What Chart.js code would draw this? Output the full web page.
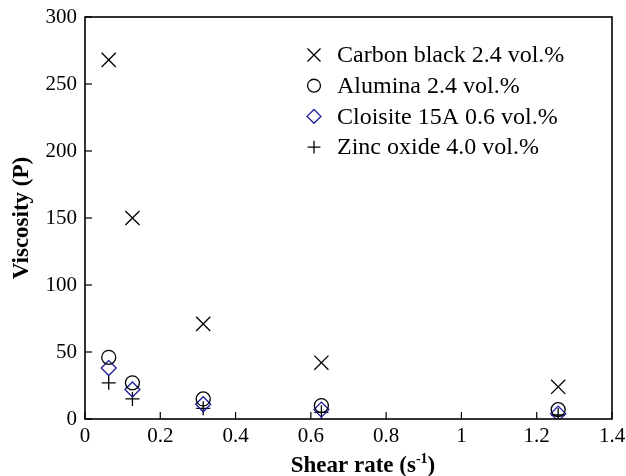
<!DOCTYPE html>
<html lang="en">
<head>
  <meta charset="UTF-8" />
  <title>Viscosity vs shear rate</title>
  <script src="https://cdn.jsdelivr.net/npm/chart.js"></script>
  <style>
    html, body { margin: 0; padding: 0; background: #fff; }
    #wrap { width: 626px; height: 476px; }
  </style>
</head>
<body>
<div id="wrap"><canvas id="viscChart" width="626" height="476"></canvas></div>

<script>
  // values
  const shearRate   = [0.063, 0.126, 0.314, 0.628, 1.257];
  const carbonBlack = [268, 150, 71, 42, 24];
  const alumina     = [46, 27, 15, 10, 7];
  const cloisite    = [38, 22, 11, 7, 4];
  const zincOxide   = [27, 15, 8, 5, 3];

  const seriesNames = ['Carbon black 2.4 vol.%', 'Alumina 2.4 vol.%', 'Cloisite 15A 0.6 vol.%', 'Zinc oxide 4.0 vol.%'];
  const xTickLabels = ['0', '0.2', '0.4', '0.6', '0.8', '1', '1.2', '1.4'];
  const yTickLabels = ['0', '50', '100', '150', '200', '250', '300'];

  const FONT = "'Liberation Serif', 'Times New Roman', serif";

  function pts(ys) {
    return ys.map((y, i) => ({ x: shearRate[i], y: y }));
  }

  const styles = [
    { pointStyle: 'crossRot', radius: 10, color: '#000' },
    { pointStyle: 'circle',   radius: 7,  color: '#000' },
    { pointStyle: 'rectRot',  radius: 7.5, color: '#1c1c9c' },
    { pointStyle: 'cross',    radius: 7,  color: '#000' }
  ];
  const values = [carbonBlack, alumina, cloisite, zincOxide];

  const datasets = values.map((v, i) => ({
    label: seriesNames[i],
    data: pts(v),
    pointStyle: styles[i].pointStyle,
    pointRadius: styles[i].radius,
    pointHoverRadius: styles[i].radius,
    borderColor: styles[i].color,
    backgroundColor: 'rgba(0,0,0,0)',
    pointBorderWidth: 1.3,
    showLine: false
  }));

  // frame, inward ticks, x title with superscript and the legend inside the plot
  const framePlugin = {
    id: 'frame',
    afterDraw(chart) {
      const ctx = chart.ctx;
      const a = chart.chartArea;
      ctx.save();
      ctx.strokeStyle = '#000';
      ctx.lineWidth = 1.6;
      ctx.strokeRect(a.left, a.top, a.right - a.left, a.bottom - a.top);

      ctx.lineWidth = 1.2;
      const xs = chart.scales.x, ys = chart.scales.y;
      xs.ticks.forEach(t => {
        const px = xs.getPixelForValue(t.value);
        ctx.beginPath(); ctx.moveTo(px, a.bottom); ctx.lineTo(px, a.bottom - 7); ctx.stroke();
      });
      ys.ticks.forEach(t => {
        const py = ys.getPixelForValue(t.value);
        ctx.beginPath(); ctx.moveTo(a.left, py); ctx.lineTo(a.left + 7, py); ctx.stroke();
      });

      // x axis title: Shear rate (s^-1)
      ctx.fillStyle = '#000';
      ctx.textBaseline = 'alphabetic';
      const big = 'bold 23px ' + FONT, small = 'bold 14px ' + FONT;
      ctx.font = big;
      const w1 = ctx.measureText('Shear rate (s').width;
      const w3 = ctx.measureText(')').width;
      ctx.font = small;
      const w2 = ctx.measureText('-1').width;
      let x = 363 - (w1 + w2 + w3) / 2;
      const base = 472;
      ctx.font = big; ctx.fillText('Shear rate (s', x, base); x += w1;
      ctx.font = small; ctx.fillText('-1', x, base - 9); x += w2;
      ctx.font = big; ctx.fillText(')', x, base);

      // legend
      const mx = 314, tx = 337, y0 = 55, dy = 30.7;
      ctx.font = '24px ' + FONT;
      ctx.textBaseline = 'middle';
      seriesNames.forEach((name, i) => {
        const y = y0 + i * dy;
        ctx.strokeStyle = styles[i].color;
        ctx.fillStyle = 'rgba(0,0,0,0)';
        ctx.lineWidth = 1.3;
        Chart.helpers.drawPoint(ctx, {
          pointStyle: styles[i].pointStyle,
          radius: styles[i].radius * 0.92,
          rotation: 0,
          borderWidth: 1.3
        }, mx, y);
        ctx.fillStyle = '#000';
        ctx.fillText(name, tx, y + 1);
      });
      ctx.restore();
    }
  };

  new Chart(document.getElementById('viscChart').getContext('2d'), {
    type: 'scatter',
    data: { datasets: datasets },
    options: {
      responsive: false,
      animation: false,
      layout: { padding: { left: 8, right: 14, top: 17, bottom: 0 } },
      plugins: {
        legend: { display: false },
        tooltip: { enabled: false }
      },
      scales: {
        x: {
          type: 'linear',
          min: 0, max: 1.4,
          afterFit(scale) {
            scale.height = 57;
            scale.paddingLeft = 0;
            scale.paddingRight = 0;
          },
          grid: { display: false, drawTicks: false },
          border: { display: false },
          ticks: {
            stepSize: 0.2,
            padding: 5,
            color: '#000',
            font: { family: FONT, size: 21 },
            callback: (v, i) => xTickLabels[i]
          },
          title: { display: false }
        },
        y: {
          min: 0, max: 300,
          afterFit(scale) {
            scale.width = 77;
            scale.paddingTop = 0;
            scale.paddingBottom = 0;
          },
          grid: { display: false, drawTicks: false },
          border: { display: false },
          ticks: {
            stepSize: 50,
            padding: 8,
            color: '#000',
            font: { family: FONT, size: 21 },
            callback: (v, i) => yTickLabels[i]
          },
          title: {
            display: true,
            text: 'Viscosity (P)',
            color: '#000',
            font: { family: FONT, size: 23, weight: 'bold' },
            padding: { top: 0, bottom: 0 }
          }
        }
      }
    },
    plugins: [framePlugin]
  });
</script>
</body>
</html>
